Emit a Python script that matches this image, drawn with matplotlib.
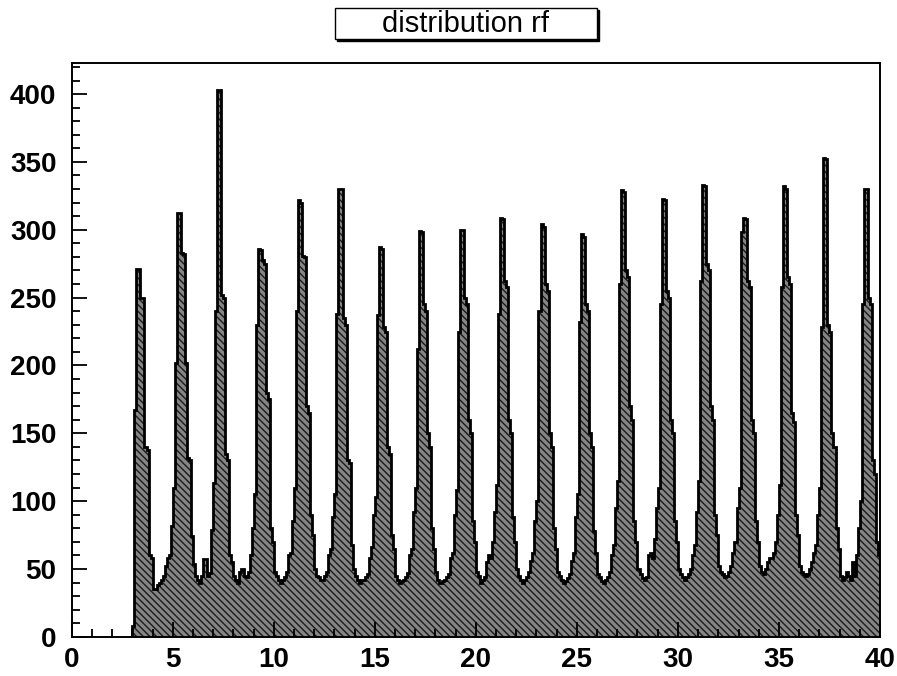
import numpy as np
import matplotlib
matplotlib.use("Agg")
import matplotlib.pyplot as plt
from matplotlib.patches import Rectangle
from matplotlib.ticker import MultipleLocator

plt.rcParams['font.family'] = ['Liberation Sans', 'DejaVu Sans']
plt.rcParams['hatch.linewidth'] = 1.0
plt.rcParams['hatch.color'] = '#1a1a1a'

# Histogram binning
x_start = 3.0
bin_width = 0.1

# Bin contents, one list per 2-unit period of the rf signal
p00 = [8, 167, 271, 271, 250, 250, 140, 138, 60, 58, 35, 35, 38, 40, 42, 45, 52, 58, 60, 82]
p01 = [110, 202, 312, 312, 283, 282, 202, 132, 130, 74, 54, 45, 42, 40, 45, 57, 57, 45, 47, 79]
p02 = [113, 240, 403, 403, 252, 250, 135, 130, 60, 55, 45, 42, 40, 48, 50, 45, 44, 48, 60, 80]
p03 = [105, 230, 286, 285, 278, 275, 180, 175, 80, 70, 48, 45, 42, 40, 42, 44, 48, 60, 62, 85]
p04 = [110, 240, 322, 320, 281, 280, 170, 165, 90, 75, 50, 45, 44, 42, 42, 45, 48, 60, 65, 88]
p05 = [105, 238, 330, 330, 235, 230, 130, 128, 68, 50, 45, 42, 40, 42, 42, 44, 46, 58, 66, 90]
p06 = [103, 237, 287, 286, 228, 225, 140, 135, 75, 65, 45, 42, 40, 41, 42, 44, 47, 60, 65, 92]
p07 = [110, 212, 299, 298, 245, 240, 150, 140, 80, 65, 48, 42, 40, 41, 42, 44, 46, 58, 62, 90]
p08 = [108, 225, 300, 300, 250, 245, 160, 150, 85, 70, 48, 45, 40, 42, 44, 55, 60, 58, 70, 92]
p09 = [112, 238, 309, 308, 262, 258, 160, 150, 88, 70, 50, 45, 42, 40, 42, 44, 48, 56, 62, 85]
p10 = [100, 240, 304, 302, 260, 255, 150, 140, 80, 65, 48, 45, 42, 40, 41, 43, 46, 56, 62, 88]
p11 = [105, 232, 297, 295, 245, 240, 150, 140, 78, 62, 46, 44, 41, 40, 42, 44, 48, 60, 68, 95]
p12 = [115, 260, 329, 328, 270, 265, 170, 160, 85, 70, 50, 46, 43, 42, 44, 60, 62, 58, 72, 95]
p13 = [110, 245, 323, 322, 255, 250, 160, 150, 85, 70, 50, 46, 44, 42, 44, 46, 50, 60, 68, 92]
p14 = [115, 262, 333, 332, 275, 270, 170, 160, 90, 75, 52, 48, 46, 44, 45, 48, 52, 62, 70, 95]
p15 = [110, 298, 309, 308, 262, 258, 160, 150, 85, 70, 52, 48, 46, 50, 55, 58, 58, 62, 70, 90]
p16 = [112, 258, 332, 330, 265, 260, 165, 158, 90, 75, 52, 48, 46, 45, 46, 50, 55, 62, 68, 90]
p17 = [110, 228, 353, 352, 230, 225, 150, 140, 80, 65, 45, 42, 44, 48, 45, 42, 55, 45, 60, 80]
p18 = [100, 245, 330, 330, 250, 245, 130, 120, 70, 60]

counts = np.array(p00 + p01 + p02 + p03 + p04 + p05 + p06 + p07 + p08 + p09
                  + p10 + p11 + p12 + p13 + p14 + p15 + p16 + p17 + p18, dtype=float)
edges = x_start + bin_width * np.arange(len(counts) + 1)

x_ticks = [0, 5, 10, 15, 20, 25, 30, 35, 40]
y_ticks = [0, 50, 100, 150, 200, 250, 300, 350, 400]

fig = plt.figure(figsize=(8.97, 6.76), dpi=100)
ax = fig.add_axes([0.080, 0.058, 0.901, 0.849])

ax.stairs(counts, edges, fill=True, facecolor='#858585', edgecolor='#1a1a1a',
          hatch='\\\\\\\\\\', linewidth=0)
ax.stairs(counts, edges, fill=False, edgecolor='black', linewidth=2.0,
          baseline=0)

ax.set_xlim(0, 40)
ax.set_ylim(0, 423)
ax.set_xticks(x_ticks)
ax.set_yticks(y_ticks)
ax.xaxis.set_minor_locator(MultipleLocator(1))
ax.yaxis.set_minor_locator(MultipleLocator(10))

ax.tick_params(axis='both', which='both', direction='in', top=False, right=False,
               width=1.3, colors='black')
ax.tick_params(axis='both', which='major', length=11, labelsize=20)
ax.tick_params(axis='both', which='minor', length=6)
ax.tick_params(axis='y', which='major', pad=11)
ax.tick_params(axis='x', which='major', pad=7)
for lab in ax.get_xticklabels() + ax.get_yticklabels():
    lab.set_fontweight('bold')

for s in ax.spines.values():
    s.set_linewidth(1.4)
    s.set_color('black')

# Title box with drop shadow
bx, by, bw, bh = 335 / 897, 1 - 39 / 676, 262 / 897, 31 / 676
fig.patches.append(Rectangle((bx + 2 / 897, by - 2 / 676), bw, bh, transform=fig.transFigure,
                             facecolor='black', edgecolor='black', zorder=1))
fig.patches.append(Rectangle((bx, by), bw, bh, transform=fig.transFigure,
                             facecolor='white', edgecolor='black', linewidth=1.0, zorder=2))
fig.text(bx + bw / 2, by + bh / 2, 'distribution rf', ha='center', va='center',
         fontsize=21, zorder=3)

fig.savefig('out.png', dpi=100)
